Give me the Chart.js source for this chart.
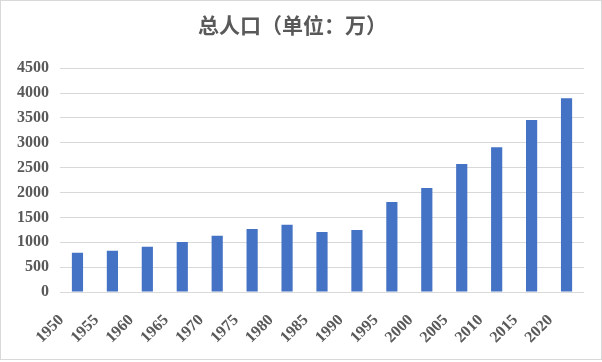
<!DOCTYPE html>
<html>
<head>
<meta charset="utf-8">
<script src="https://cdn.jsdelivr.net/npm/chart.js@4"></script>
<style>
  html, body { margin: 0; padding: 0; background: #fff; }
  #wrap { width: 600px; height: 358px; border: 1px solid #d9d9d9; }
</style>
</head>
<body>
<div id="wrap"><canvas id="popChart" width="600" height="358"></canvas></div>
<script>
// Total population (unit: 10,000)
const years = ['1950', '1955', '1960', '1965', '1970', '1975', '1980', '1985',
  '1990', '1995', '2000', '2005', '2010', '2015', '2020'];
const population = [790, 830, 910, 1005, 1130, 1265, 1350, 1205,
  1245, 1808, 2090, 2572, 2912, 3456, 3898];
const yTicks = [0, 500, 1000, 1500, 2000, 2500, 3000, 3500, 4000, 4500];

const textGray = '#595959';
const gridGray = '#d9d9d9';
const serif = "'Liberation Serif', 'Times New Roman', serif";

new Chart(document.getElementById('popChart'), {
  type: 'bar',
  data: {
    labels: years,
    datasets: [{
      label: '总人口',
      data: population,
      backgroundColor: '#4472c4',
      barPercentage: 0.32,
      categoryPercentage: 1
    }]
  },
  options: {
    responsive: false,
    animation: false,
    layout: { padding: { left: 0, right: 17, top: 0, bottom: 0 } },
    plugins: {
      legend: { display: false },
      tooltip: { enabled: false },
      title: {
        display: true,
        text: '总人口（单位：万）',
        color: textGray,
        font: { family: "'Noto Sans CJK SC', sans-serif", size: 21, weight: 'bold', lineHeight: 1.2 },
        padding: { top: 11, bottom: 31 }
      }
    },
    scales: {
      x: {
        grid: { display: false },
        border: { display: false },
        ticks: {
          color: textGray,
          font: { family: serif, size: 16, weight: 'bold' },
          minRotation: 45,
          maxRotation: 45,
          autoSkip: false,
          labelOffset: -16,
          padding: 11
        },
        afterFit: (scale) => { scale.height = 67; }
      },
      y: {
        min: 0,
        max: 4500,
        afterBuildTicks: (scale) => { scale.ticks = yTicks.map(v => ({ value: v })); },
        grid: { color: gridGray, lineWidth: 1, drawTicks: false },
        border: { display: false },
        ticks: {
          color: textGray,
          font: { family: serif, size: 16, weight: 'bold' },
          padding: 11,
          callback: (v) => String(v)
        },
        afterFit: (scale) => { scale.width = 59; }
      }
    }
  }
});
</script>
</body>
</html>
